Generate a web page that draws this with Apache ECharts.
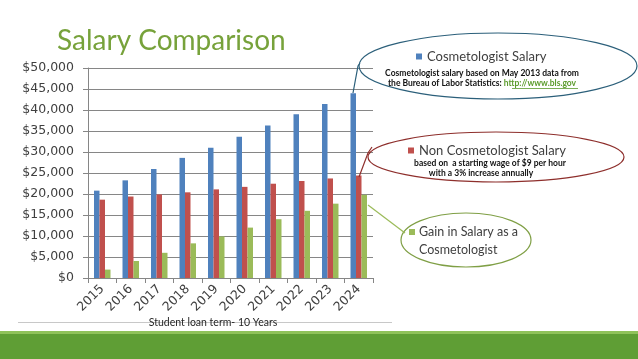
<!DOCTYPE html>
<html>
<head>
<meta charset="utf-8">
<script src="https://cdn.jsdelivr.net/npm/echarts@6/dist/echarts.min.js"></script>
<style>
html,body{margin:0;padding:0;background:#fff;}
#c{width:638px;height:359px;}
</style>
</head>
<body>
<div id="c"></div>
<script>
const years = ['2015','2016','2017','2018','2019','2020','2021','2022','2023','2024'];
const cosmetologist = [20800, 23250, 25950, 28600, 31000, 33650, 36300, 39000, 41400, 44000];
const nonCosmetologist = [18650, 19400, 19900, 20400, 21100, 21700, 22450, 23100, 23700, 24400];
const gain = [2000, 4050, 6000, 8250, 9900, 12000, 14000, 16000, 17700, 19800];
const yTicks = { min: 0, max: 50000, interval: 5000 };

const chart = echarts.init(document.getElementById('c'));
const axisGray = '#868686';
const txt = '#404040';

chart.setOption({
  animation: false,
  backgroundColor: '#ffffff',
  title: {
    text: 'Salary Comparison',
    left: 52, top: 22,
    textStyle: { fontFamily: 'Lato', fontSize: 28, fontWeight: 'normal', color: '#77a23b' }
  },
  legend: [
    { data: ['Cosmetologist Salary'], left: 411, top: 45, icon: 'rect', itemWidth: 6, itemHeight: 6, itemGap: 4,
      textStyle: { fontFamily: 'Lato', fontSize: 13, color: '#404040' } },
    { data: ['Non Cosmetologist Salary'], left: 403, top: 139, icon: 'rect', itemWidth: 6, itemHeight: 6, itemGap: 4,
      textStyle: { fontFamily: 'Lato', fontSize: 13, color: '#404040' } }
  ],
  grid: { left: 88, right: 265, top: 68, bottom: 81 },
  xAxis: {
    type: 'category',
    data: years,
    axisLine: { lineStyle: { color: axisGray } },
    axisTick: { show: true, alignWithLabel: false, length: 5, lineStyle: { color: axisGray } },
    axisLabel: { rotate: 45, margin: 9, fontFamily: 'DejaVu Sans', fontSize: 12.5, color: txt }
  },
  yAxis: {
    type: 'value',
    min: yTicks.min, max: yTicks.max, interval: yTicks.interval,
    axisLine: { show: true, lineStyle: { color: axisGray } },
    axisTick: { show: true, length: 5, lineStyle: { color: axisGray } },
    splitLine: { lineStyle: { color: axisGray } },
    axisLabel: {
      margin: 14, fontFamily: 'DejaVu Sans', fontSize: 12.5, color: txt,
      formatter: v => '$' + v.toLocaleString('en-US')
    }
  },
  series: [
    { name: 'Cosmetologist Salary', type: 'bar', data: cosmetologist, barWidth: 5.5, barGap: '0%', itemStyle: { color: '#4f81bd' } },
    { name: 'Non Cosmetologist Salary', type: 'bar', data: nonCosmetologist, barWidth: 5.5, barGap: '0%', itemStyle: { color: '#c0504d' } },
    { name: 'Gain in Salary as a Cosmetologist', type: 'bar', data: gain, barWidth: 5.5, barGap: '0%', itemStyle: { color: '#9bbb59' } }
  ],
  graphic: [
    // callout ellipses
    { type: 'ellipse', shape: { cx: 498, cy: 66, rx: 139, ry: 33 }, style: { fill: 'none', stroke: '#2b5f7a', lineWidth: 1.2 }, z: 10 },
    { type: 'ellipse', shape: { cx: 496, cy: 157, rx: 128, ry: 25 }, style: { fill: 'none', stroke: '#8e2f2c', lineWidth: 1.2 }, z: 10 },
    { type: 'ellipse', shape: { cx: 466, cy: 240, rx: 65, ry: 27 }, style: { fill: 'none', stroke: '#7f9f45', lineWidth: 1.2 }, z: 10 },
    // leader lines
    { type: 'polyline', shape: { points: [[360, 63], [358, 66], [353, 93]] }, style: { stroke: '#2b5f7a', lineWidth: 1.2, fill: 'none' }, z: 10 },
    { type: 'polyline', shape: { points: [[372, 147], [368, 153], [359, 177]] }, style: { stroke: '#8e2f2c', lineWidth: 1.2, fill: 'none' }, z: 10 },
    { type: 'line', shape: { x1: 368, y1: 205, x2: 405, y2: 233 }, style: { stroke: '#9bbb59', lineWidth: 1.2 }, z: 10 },
    // green legend entry (two lines)
    { type: 'rect', shape: { x: 409, y: 229, width: 6, height: 6 }, style: { fill: '#9bbb59' }, z: 11 },
    { type: 'text', x: 419, y: 232, style: { text: 'Gain in Salary as a', font: '12.5px Lato', fill: '#404040', textVerticalAlign: 'middle' }, z: 11 },
    { type: 'text', x: 419, y: 250, style: { text: 'Cosmetologist', font: '12.5px Lato', fill: '#404040', textVerticalAlign: 'middle' }, z: 11 },
    // notes
    { type: 'text', x: 482, y: 73, style: { text: 'Cosmetologist salary based on May 2013 data from', font: 'bold 8.5px Lato', fill: '#111', textAlign: 'center', textVerticalAlign: 'middle' }, z: 11 },
    { type: 'text', x: 482, y: 83.5, style: {
        text: '{a|the Bureau of Labor Statistics: }{b|http://www.bls.gov}',
        rich: { a: { font: 'bold 8.5px Lato', fill: '#111' }, b: { font: 'bold 8.5px Lato', fill: '#5b9b2c' } },
        textAlign: 'center', textVerticalAlign: 'middle' }, z: 11 },
    { type: 'line', shape: { x1: 512, y1: 88.5, x2: 578, y2: 88.5 }, style: { stroke: '#5b9b2c', lineWidth: 0.8 }, z: 11 },
    { type: 'text', x: 490, y: 163, style: { text: 'based on  a starting wage of $9 per hour', font: 'bold 8.5px Lato', fill: '#111', textAlign: 'center', textVerticalAlign: 'middle' }, z: 11 },
    { type: 'text', x: 481, y: 173, style: { text: 'with a 3% increase annually', font: 'bold 8.5px Lato', fill: '#111', textAlign: 'center', textVerticalAlign: 'middle' }, z: 11 },
    // footer line & caption
    { type: 'line', shape: { x1: 18, y1: 322.5, x2: 392, y2: 322.5 }, style: { stroke: '#c8c8c8', lineWidth: 1 }, z: 5 },
    { type: 'text', x: 213, y: 323, style: { text: 'Student loan term- 10 Years', font: '10.5px Lato', fill: '#262626', textAlign: 'center', textVerticalAlign: 'middle' }, z: 6 },
    // bottom band
    { type: 'rect', shape: { x: 0, y: 331, width: 638, height: 3 }, style: { fill: '#8fc25a' }, z: 5 },
    { type: 'rect', shape: { x: 0, y: 334, width: 638, height: 25 }, style: { fill: '#5f9e35' }, z: 5 }
  ]
});
</script>
</body>
</html>
